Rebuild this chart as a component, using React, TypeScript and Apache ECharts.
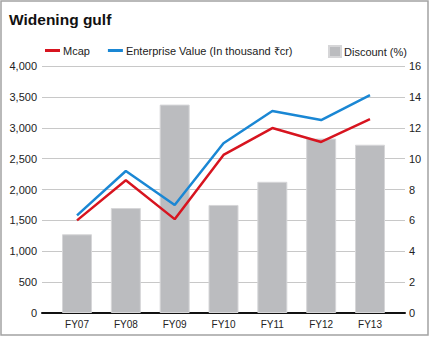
import React, { useEffect, useRef } from "react";
import * as echarts from "echarts";

const categories = ["FY07", "FY08", "FY09", "FY10", "FY11", "FY12", "FY13"];
const mcap = [1500, 2150, 1520, 2560, 2995, 2770, 3140];
const enterpriseValue = [1580, 2300, 1750, 2750, 3270, 3125, 3530];
const discount = [5.1, 6.8, 13.5, 7.0, 8.5, 11.3, 10.9];

const FONT = '"Liberation Sans", Arial, sans-serif';

export default function App() {
  const ref = useRef<HTMLDivElement>(null);
  useEffect(() => {
    if (!ref.current) return;
    const chart = echarts.init(ref.current, null, { renderer: "svg" });
    const idx = categories.map((_, i) => i);
    chart.setOption({
      animation: false,
      backgroundColor: "#ffffff",
      textStyle: { fontFamily: FONT, color: "#222" },
      title: {
        text: "Widening gulf",
        left: 4,
        top: 6,
        textStyle: { fontFamily: FONT, fontWeight: "bold", fontSize: 15.5, color: "#111" },
      },
      graphic: [
        {
          type: "rect",
          shape: { x: 1, y: 1, width: 427, height: 334 },
          style: { fill: "none", stroke: "#a3a3a3", lineWidth: 1.5 },
          silent: true,
        },
      ],
      legend: [
        {
          data: ["Mcap", "Enterprise Value (In thousand ₹cr)"],
          left: 40,
          top: 40,
          icon: "rect",
          itemWidth: 15,
          itemHeight: 3,
          itemGap: 18,
          textStyle: { fontFamily: FONT, fontSize: 11, color: "#222", padding: [0, 0, 0, -2] },
        },
        {
          data: ["Discount (%)"],
          left: 323,
          top: 40,
          icon: "rect",
          itemWidth: 12,
          itemHeight: 11,
          textStyle: { fontFamily: FONT, fontSize: 11, color: "#222", padding: [0, 0, 0, -2] },
        },
      ],
      grid: { left: 42, right: 25, top: 66, bottom: 25, containLabel: false },
      xAxis: {
        type: "value",
        min: -0.717,
        max: 6.717,
        axisLine: { show: true, onZero: false, lineStyle: { color: "#111", width: 2 } },
        axisTick: { show: false },
        splitLine: { show: false },
        axisLabel: {
          customValues: idx,
          formatter: (v: number) => categories[Math.round(v)] ?? "",
          fontFamily: FONT,
          fontSize: 10,
          color: "#222",
          margin: 6,
        },
      },
      yAxis: [
        {
          type: "value",
          min: 0,
          max: 4000,
          interval: 500,
          axisLine: { show: false },
          axisTick: { show: false },
          splitLine: { show: true, lineStyle: { color: "#c8c8c8", width: 1.2 } },
          axisLabel: {
            fontFamily: FONT,
            fontSize: 11,
            color: "#222",
            margin: 5,
            formatter: (v: number) => v.toLocaleString("en-US"),
          },
        },
        {
          type: "value",
          min: 0,
          max: 16,
          interval: 2,
          position: "right",
          axisLine: { show: false },
          axisTick: { show: false },
          splitLine: { show: false },
          axisLabel: { fontFamily: FONT, fontSize: 11, color: "#222", margin: 4 },
        },
      ],
      series: [
        {
          name: "Discount (%)",
          type: "bar",
          yAxisIndex: 1,
          barWidth: 30,
          itemStyle: { color: "#bbbcbf", borderColor: "#d6d6d8", borderWidth: 1 },
          data: discount.map((v, i) => [i, v]),
          z: 1,
        },
        {
          name: "Mcap",
          type: "line",
          yAxisIndex: 0,
          showSymbol: false,
          symbol: "none",
          lineStyle: { color: "#d7141f", width: 2.5 },
          itemStyle: { color: "#d7141f" },
          data: mcap.map((v, i) => [i, v]),
          z: 3,
        },
        {
          name: "Enterprise Value (In thousand ₹cr)",
          type: "line",
          yAxisIndex: 0,
          showSymbol: false,
          symbol: "none",
          lineStyle: { color: "#1a87d4", width: 2.5 },
          itemStyle: { color: "#1a87d4" },
          data: enterpriseValue.map((v, i) => [i, v]),
          z: 3,
        },
      ],
    });
    return () => chart.dispose();
  }, []);
  return <div ref={ref} style={{ width: 430, height: 338, position: "absolute", left: 0, top: 0 }} />;
}
